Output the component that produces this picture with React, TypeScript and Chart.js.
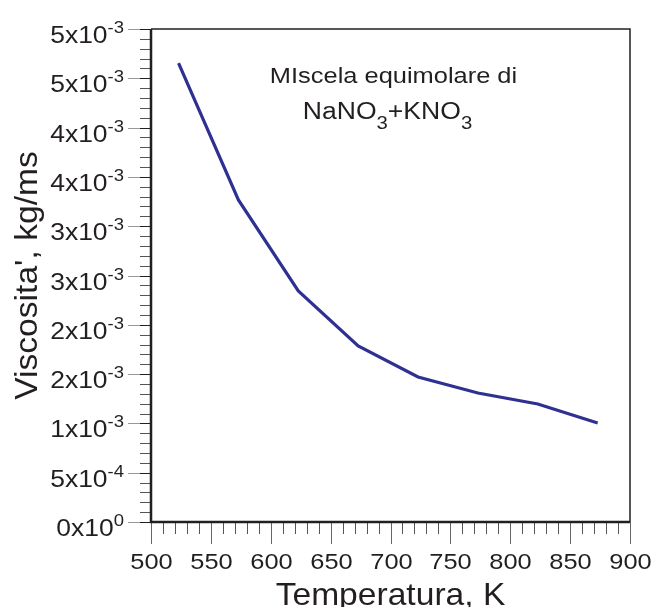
import React, { useEffect, useRef } from "react";
import { Chart, registerables } from "chart.js";

Chart.register(...registerables);

const temperatures = [523, 573, 623, 673, 723, 773, 823, 873];
const viscosity = [0.004655, 0.003266, 0.002343, 0.001785, 0.001471, 0.001308, 0.001197, 0.001004];

const yTickValues = [0, 0.0005, 0.001, 0.0015, 0.002, 0.0025, 0.003, 0.0035, 0.004, 0.0045, 0.005];
const yTickMantissa = ["0", "5", "1", "2", "2", "3", "3", "4", "4", "5", "5"];
const yTickExponent = ["0", "-4", "-3", "-3", "-3", "-3", "-3", "-3", "-3", "-3", "-3"];
const yMinorStep = 0.0001;

const xTickValues = [500, 550, 600, 650, 700, 750, 800, 850, 900];
const xTickLabels = ["500", "550", "600", "650", "700", "750", "800", "850", "900"];
const xMinorStep = 10;

const xTitle = "Temperatura, K";
const yTitle = "Viscosita', kg/ms";
const noteLine1 = "MIscela equimolare di";
const noteLine2 = [
  { t: "NaNO", sub: false },
  { t: "3", sub: true },
  { t: "+KNO", sub: false },
  { t: "3", sub: true },
];
const notePos = { x: 700, y: 0.004452 };

const FONT = '"Liberation Sans", Arial, Helvetica, sans-serif';
const TEXT = "#231f20";

function measure(ctx: CanvasRenderingContext2D, s: string, size: number, sx: number) {
  ctx.save();
  ctx.font = `${size}px ${FONT}`;
  const w = ctx.measureText(s).width * sx;
  ctx.restore();
  return w;
}

function txt(
  ctx: CanvasRenderingContext2D,
  s: string,
  x: number,
  y: number,
  size: number,
  sx: number,
  align: CanvasTextAlign
) {
  ctx.save();
  ctx.translate(x, y);
  ctx.scale(sx, 1);
  ctx.font = `${size}px ${FONT}`;
  ctx.fillStyle = TEXT;
  ctx.textAlign = align;
  ctx.textBaseline = "alphabetic";
  ctx.fillText(s, 0, 0);
  ctx.restore();
}

const overlay = {
  id: "overlay",
  afterDraw(chart: any) {
    const ctx: CanvasRenderingContext2D = chart.ctx;
    const xs = chart.scales.x;
    const ys = chart.scales.y;
    const { left, right, top, bottom } = chart.chartArea;
    ctx.save();

    // y minor ticks
    const nMinorY = Math.round((ys.max - ys.min) / yMinorStep);
    ctx.lineWidth = 1;
    for (let i = 0; i <= nMinorY; i++) {
      const py = Math.round(ys.getPixelForValue(ys.min + i * yMinorStep)) + 0.5;
      ctx.strokeStyle = "#555";
      ctx.beginPath();
      ctx.moveTo(left - 11, py);
      ctx.lineTo(left, py);
      ctx.stroke();
    }
    // y major ticks + labels
    yTickValues.forEach((v, i) => {
      const py = Math.round(ys.getPixelForValue(v)) + 0.5;
      ctx.strokeStyle = "#999";
      ctx.beginPath();
      ctx.moveTo(left - 23, py);
      ctx.lineTo(left - 11, py);
      ctx.stroke();
      ctx.strokeStyle = TEXT;
      ctx.beginPath();
      ctx.moveTo(left - 11, py);
      ctx.lineTo(left, py);
      ctx.stroke();

      const supW = measure(ctx, yTickExponent[i], 16.5, 1.12);
      const rx = left - 27;
      txt(ctx, yTickExponent[i], rx - supW, py + 3, 16.5, 1.12, "left");
      txt(ctx, yTickMantissa[i] + "x10", rx - supW, py + 13, 23, 1.15, "right");
    });

    // x minor ticks
    const nMinorX = Math.round((xs.max - xs.min) / xMinorStep);
    for (let i = 0; i <= nMinorX; i++) {
      const px = Math.round(xs.getPixelForValue(xs.min + i * xMinorStep)) + 0.5;
      ctx.strokeStyle = "#555";
      ctx.beginPath();
      ctx.moveTo(px, bottom);
      ctx.lineTo(px, bottom + 12);
      ctx.stroke();
    }
    xTickValues.forEach((v, i) => {
      const px = Math.round(xs.getPixelForValue(v)) + 0.5;
      ctx.strokeStyle = "#666";
      ctx.beginPath();
      ctx.moveTo(px, bottom);
      ctx.lineTo(px, bottom + 22);
      ctx.stroke();
      txt(ctx, xTickLabels[i], px, bottom + 47, 22.5, 1.13, "center");
    });

    // frame
    ctx.strokeStyle = TEXT;
    ctx.lineWidth = 1.5;
    ctx.beginPath();
    ctx.moveTo(left, top);
    ctx.lineTo(right, top);
    ctx.lineTo(right, bottom);
    ctx.stroke();
    ctx.lineWidth = 2.5;
    ctx.beginPath();
    ctx.moveTo(left, top);
    ctx.lineTo(left, bottom);
    ctx.lineTo(right, bottom);
    ctx.stroke();

    // axis titles
    txt(ctx, xTitle, (left + right) / 2, bottom + 83, 32, 1.05, "center");
    ctx.save();
    ctx.translate(37, (top + bottom) / 2);
    ctx.rotate(-Math.PI / 2);
    txt(ctx, yTitle, 0, 0, 32, 1.05, "center");
    ctx.restore();

    // annotation
    const ax = xs.getPixelForValue(notePos.x);
    const ay = ys.getPixelForValue(notePos.y);
    txt(ctx, noteLine1, ax + 3, ay, 22.5, 1.13, "center");
    let total = 0;
    noteLine2.forEach((p) => {
      total += measure(ctx, p.t, p.sub ? 18 : 23.5, 1.13);
    });
    let cx = ax - 3 - total / 2;
    noteLine2.forEach((p) => {
      const size = p.sub ? 18 : 23.5;
      txt(ctx, p.t, cx, ay + (p.sub ? 46 : 36), size, 1.13, "left");
      cx += measure(ctx, p.t, size, 1.13);
    });

    ctx.restore();
  },
};

export default function App() {
  const ref = useRef<HTMLCanvasElement | null>(null);
  useEffect(() => {
    if (!ref.current) return;
    const chart = new Chart(ref.current, {
      type: "line",
      data: {
        datasets: [
          {
            data: temperatures.map((t, i) => ({ x: t, y: viscosity[i] })),
            borderColor: "#2e3192",
            borderWidth: 3.2,
            pointRadius: 0,
            fill: false,
            tension: 0,
          },
        ],
      },
      options: {
        responsive: false,
        animation: false,
        events: [],
        layout: { padding: { left: 0, right: 24, top: 29, bottom: 0 } },
        plugins: { legend: { display: false }, tooltip: { enabled: false } },
        scales: {
          x: {
            type: "linear",
            min: 500,
            max: 900,
            grid: { display: false },
            border: { display: false },
            ticks: { display: false },
            afterFit: (s: any) => {
              s.height = 85;
            },
          },
          y: {
            type: "linear",
            min: 0,
            max: 0.005,
            grid: { display: false },
            border: { display: false },
            ticks: { display: false },
            afterFit: (s: any) => {
              s.width = 151;
            },
          },
        },
      },
      plugins: [overlay],
    });
    return () => chart.destroy();
  }, []);
  return (
    <div style={{ position: "fixed", left: 0, top: 0, width: 654, height: 607, background: "#fff" }}>
      <canvas ref={ref} width={654} height={607} style={{ width: 654, height: 607 }} />
    </div>
  );
}
